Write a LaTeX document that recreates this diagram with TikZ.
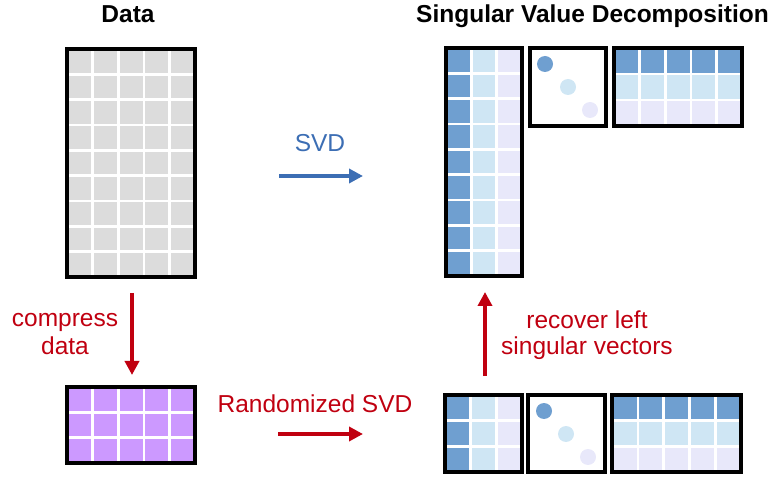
\documentclass[tikz,border=0pt]{standalone}
\usepackage{fontspec}
\setmainfont{Liberation Sans}
\usetikzlibrary{arrows.meta}
\definecolor{cellgray}{HTML}{DCDCDC}
\definecolor{cellpurple}{HTML}{CC99FF}
\definecolor{ublue}{HTML}{6F9FD0}
\definecolor{ulight}{HTML}{CFE6F4}
\definecolor{ulav}{HTML}{E8E8FA}
\definecolor{svdblue}{HTML}{3C6EB4}
\definecolor{svdred}{HTML}{C00010}
\newcommand{\gridlines}[6]{%
  \pgfmathsetmacro{\gcw}{#3/#5}\pgfmathsetmacro{\gch}{#4/#6}%
  \pgfmathtruncatemacro{\gnc}{#5-1}\pgfmathtruncatemacro{\gnr}{#6-1}%
  \ifnum\gnc>0 \foreach \i in {1,...,\gnc}{\draw[gridline] ({#1+\i*\gcw},#2) -- ++(0,#4);}\fi
  \ifnum\gnr>0 \foreach \j in {1,...,\gnr}{\draw[gridline] (#1,{#2+\j*\gch}) -- ++(#3,0);}\fi
}
\tikzset{
  gridline/.style={white, line width=2.6pt},
  mat/.style={draw=black, line width=3.4pt, inner sep=0pt, fill=none},
  lbl/.style={font=\fontsize{24.5}{29}\selectfont, anchor=base, inner sep=0pt},
  title/.style={font=\fontsize{24.5}{29}\selectfont\bfseries, anchor=base, inner sep=0pt},
  barrow/.style={draw=svdblue, line width=4.2pt, -{Triangle[length=14pt,width=14pt]}},
  rarrow/.style={draw=svdred, line width=4.2pt, -{Triangle[length=14pt,width=14pt]}},
}
\begin{document}
\begin{tikzpicture}[x=1pt,y=-1pt]
\useasboundingbox (0,0) rectangle (774,478);

% titles
\node[title] (tdata) at (128,23) {Data};
\node[title] (tsvd) at (592.5,23) {Singular Value Decomposition};

% data matrix
\fill[cellgray] (67,49) rectangle (195,277);
\gridlines{67}{49}{128}{228}{5}{9}
\node[mat, minimum width=128pt, minimum height=228pt] (data) at (131,163) {};

% compressed matrix
\fill[cellpurple] (67,387) rectangle (195,463);
\gridlines{67}{387}{128}{76}{5}{3}
\node[mat, minimum width=128pt, minimum height=76pt] (comp) at (131,425) {};

% top U
\fill[ublue] (446,48) rectangle (471.33,276);
\fill[ulight] (471.33,48) rectangle (496.67,276);
\fill[ulav] (496.67,48) rectangle (522,276);
\gridlines{446}{48}{76}{228}{3}{9}
\node[mat, minimum width=76pt, minimum height=228pt] (Utop) at (484,162) {};

% top Sigma
\node[mat, minimum width=76pt, minimum height=78pt] (Stop) at (568,87) {};
\fill[ublue] (545,64) circle (8);
\fill[ulight] (568,87) circle (8);
\fill[ulav] (590,110) circle (8);

% top V^T
\fill[ublue] (614,48) rectangle (742,74);
\fill[ulight] (614,74) rectangle (742,100);
\fill[ulav] (614,100) rectangle (742,126);
\gridlines{614}{48}{128}{78}{5}{3}
\node[mat, minimum width=128pt, minimum height=78pt] (Vtop) at (678,87) {};

% bottom U
\fill[ublue] (445,395) rectangle (470.67,472);
\fill[ulight] (470.67,395) rectangle (496.33,472);
\fill[ulav] (496.33,395) rectangle (522,472);
\gridlines{445}{395}{77}{77}{3}{3}
\node[mat, minimum width=77pt, minimum height=77pt] (Ubot) at (483.5,433.5) {};

% bottom Sigma
\node[mat, minimum width=77pt, minimum height=77pt] (Sbot) at (566.5,433.5) {};
\fill[ublue] (544,411) circle (8);
\fill[ulight] (566,434) circle (8);
\fill[ulav] (588,457) circle (8);

% bottom V^T
\fill[ublue] (612,395) rectangle (741,420.67);
\fill[ulight] (612,420.67) rectangle (741,446.33);
\fill[ulav] (612,446.33) rectangle (741,472);
\gridlines{612}{395}{129}{77}{5}{3}
\node[mat, minimum width=129pt, minimum height=77pt] (Vbot) at (676.5,433.5) {};

% labels
\node[lbl, text=svdblue] (lsvd) at (320,152) {SVD};
\node[lbl, text=svdred] (lcomp1) at (65,327) {compress};
\node[lbl, text=svdred] (lcomp2) at (65,355) {data};
\node[lbl, text=svdred] (lrand) at (315,412) {Randomized SVD};
\node[lbl, text=svdred] (lrec1) at (587,329) {recover left};
\node[lbl, text=svdred] (lrec2) at (587,355) {singular vectors};

% arrows
\coordinate (a1s) at (279,176); \coordinate (a1e) at (363,176);
\draw[barrow] (a1s) -- (a1e);
\coordinate (a2s) at (132,293); \coordinate (a2e) at (132,375);
\draw[rarrow] (a2s) -- (a2e);
\coordinate (a3s) at (278,434); \coordinate (a3e) at (363,434);
\draw[rarrow] (a3s) -- (a3e);
\coordinate (a4s) at (485,376); \coordinate (a4e) at (485,292);
\draw[rarrow] (a4s) -- (a4e);
\end{tikzpicture}
\end{document}
